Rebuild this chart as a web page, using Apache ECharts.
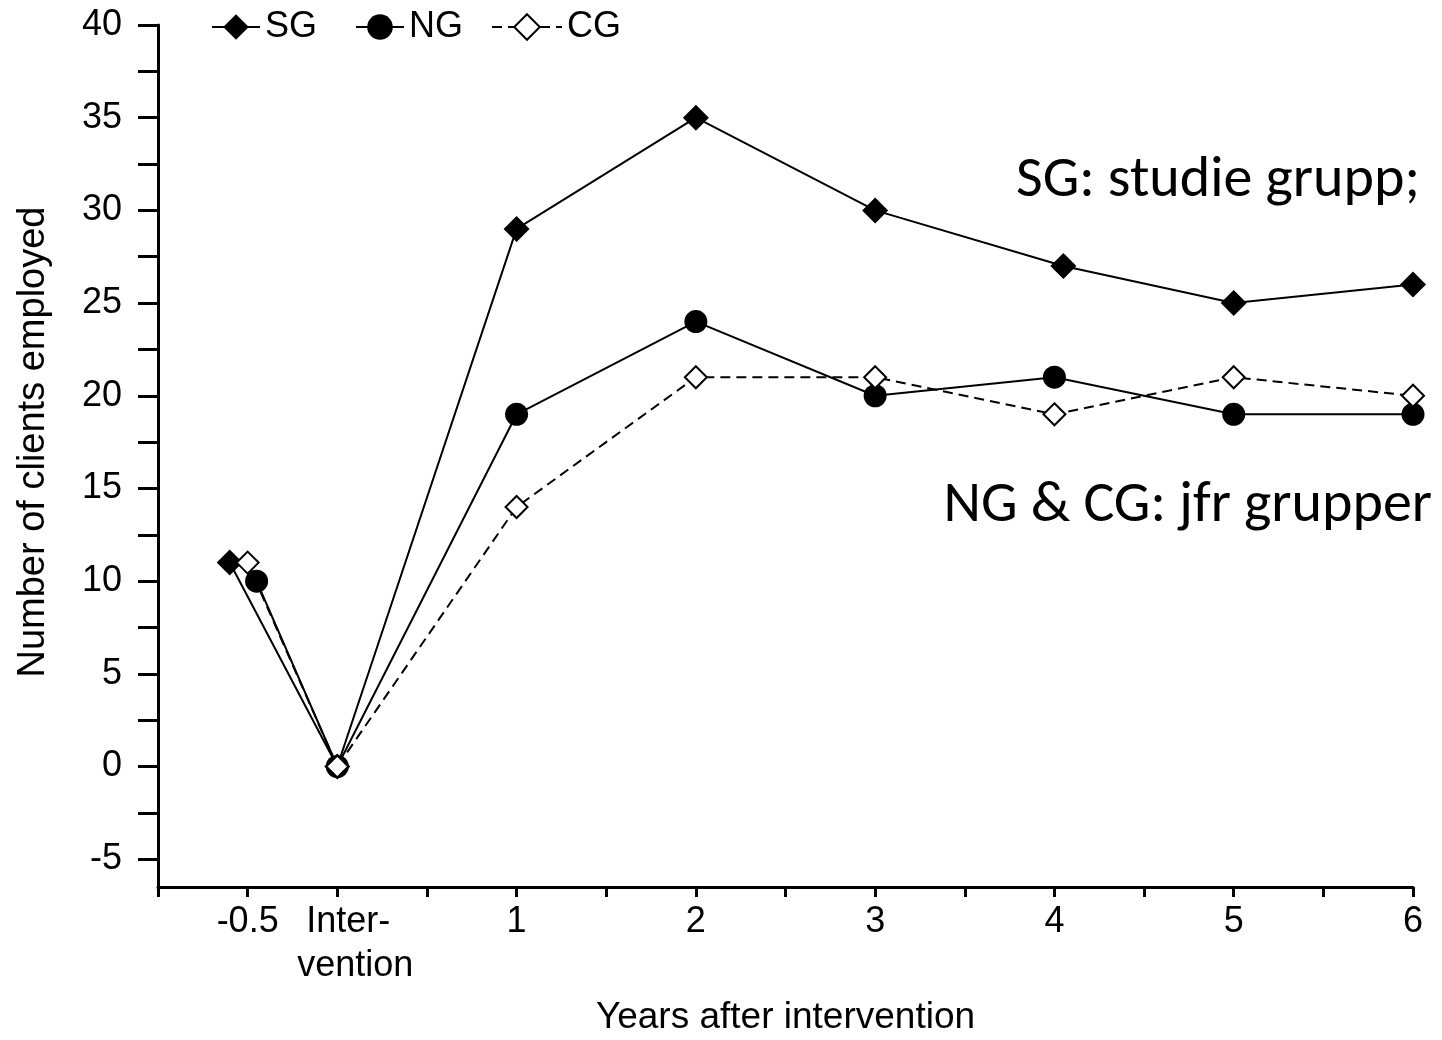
<!DOCTYPE html>
<html>
<head>
<meta charset="utf-8">
<script src="https://cdn.jsdelivr.net/npm/echarts@6/dist/echarts.min.js"></script>
<style>
html,body{margin:0;padding:0;background:#fff;}
#chart{width:1442px;height:1040px;}
</style>
</head>
<body>
<div id="chart"></div>
<script>
// ---- data ----
const seriesNames = ['SG', 'NG', 'CG'];
const sgX = [-0.6, 0, 1, 2, 3, 4.05, 5, 6];
const sgY = [11, 0, 29, 35, 30, 27, 25, 26];
const ngX = [-0.45, 0, 1, 2, 3, 4, 5, 6];
const ngY = [10, 0, 19, 24, 20, 21, 19, 19];
const cgX = [-0.5, 0, 1, 2, 3, 4, 5, 6];
const cgY = [11, 0, 14, 21, 21, 19, 21, 20];

const xLabelValues = [-0.5, 0, 1, 2, 3, 4, 5, 6];
const xLabelTexts = ['-0.5', 'Inter-\nvention', '1', '2', '3', '4', '5', '6'];
const yTickValues = [-5, -2.5, 0, 2.5, 5, 7.5, 10, 12.5, 15, 17.5, 20, 22.5, 25, 27.5, 30, 32.5, 35, 37.5, 40];
const yLabelValues = [-5, 0, 5, 10, 15, 20, 25, 30, 35, 40];

const xTitle = 'Years after intervention';
const yTitle = 'Number of clients employed';
const note1 = 'SG: studie grupp;';
const note2 = 'NG & CG: jfr grupper';

function pairs(xs, ys) { return xs.map((x, i) => [x, ys[i]]); }

const FONT = '"Liberation Sans", Arial, sans-serif';
const FS = 36;
const chart = echarts.init(document.getElementById('chart'));

const legendBase = {
  top: 4,
  itemHeight: 32,
  textStyle: { fontFamily: FONT, fontSize: FS, color: '#000' },
  itemGap: 10,
  selectedMode: false
};

chart.setOption({
  backgroundColor: '#fff',
  animation: false,
  grid: { left: 158, right: 29, top: 25, bottom: 153, containLabel: false, outerBoundsMode: 'none' },
  legend: [
    Object.assign({}, legendBase, { left: 206, itemWidth: 48, data: [seriesNames[0]] }),
    Object.assign({}, legendBase, { left: 350, itemWidth: 48, data: [seriesNames[1]] }),
    Object.assign({}, legendBase, { left: 486, itemWidth: 70, data: [seriesNames[2]] })
  ],
  xAxis: {
    type: 'value',
    min: -1,
    max: 6,
    interval: 0.5,
    splitLine: { show: false },
    axisLine: { onZero: false, lineStyle: { color: '#000', width: 3 } },
    axisTick: { show: true, length: 10, lineStyle: { color: '#000', width: 3 } },
    axisLabel: {
      margin: 13,
      color: '#000',
      fontFamily: FONT,
      fontSize: FS,
      lineHeight: 44,
      showMinLabel: true,
      showMaxLabel: true,
      formatter: function (v) {
        const i = xLabelValues.findIndex(function (t) { return Math.abs(t - v) < 1e-9; });
        if (i < 0) return '';
        if (xLabelValues[i] === 0) return '{a|Inter-}\n{b|vention}';
        return xLabelTexts[i];
      },
      rich: {
        a: { fontFamily: FONT, fontSize: FS, lineHeight: 44, color: '#000', padding: [0, 0, 0, 22] },
        b: { fontFamily: FONT, fontSize: FS, lineHeight: 44, color: '#000', padding: [0, 0, 0, 36] }
      }
    },
    name: xTitle,
    nameLocation: 'middle',
    nameGap: 112,
    nameTextStyle: { fontFamily: FONT, fontSize: 37, color: '#000' }
  },
  yAxis: {
    type: 'value',
    min: -6.5,
    max: 40,
    splitLine: { show: false },
    axisLine: { onZero: false, lineStyle: { color: '#000', width: 3 } },
    axisTick: { show: true, length: 20, customValues: yTickValues, lineStyle: { color: '#000', width: 3 } },
    axisLabel: {
      margin: 36,
      color: '#000',
      fontFamily: FONT,
      fontSize: FS,
      customValues: yLabelValues
    },
    name: yTitle,
    nameLocation: 'middle',
    nameGap: 105,
    nameTextStyle: { fontFamily: FONT, fontSize: 38, color: '#000', padding: [0, 0, 0, 28] }
  },
  graphic: [
    { type: 'text', right: 22, top: 152, style: { text: note1, font: '58px Carlito, Lato, sans-serif', fill: '#000' } },
    { type: 'text', right: 10, top: 477, style: { text: note2, font: '58px Carlito, Lato, sans-serif', fill: '#000' } }
  ],
  series: [
    {
      name: seriesNames[0], type: 'line', data: pairs(sgX, sgY),
      symbol: 'diamond', symbolSize: [26, 26],
      itemStyle: { color: '#000' },
      lineStyle: { color: '#000', width: 2 },
      z: 2
    },
    {
      name: seriesNames[1], type: 'line', data: pairs(ngX, ngY),
      symbol: 'circle', symbolSize: 23,
      itemStyle: { color: '#000' },
      lineStyle: { color: '#000', width: 2 },
      z: 3
    },
    {
      name: seriesNames[2], type: 'line', data: pairs(cgX, cgY),
      symbol: 'diamond', symbolSize: [22, 22],
      itemStyle: { color: '#fff', borderColor: '#000', borderWidth: 2 },
      lineStyle: { color: '#000', width: 2, type: [10, 6] },
      z: 4
    }
  ]
});
</script>
</body>
</html>
